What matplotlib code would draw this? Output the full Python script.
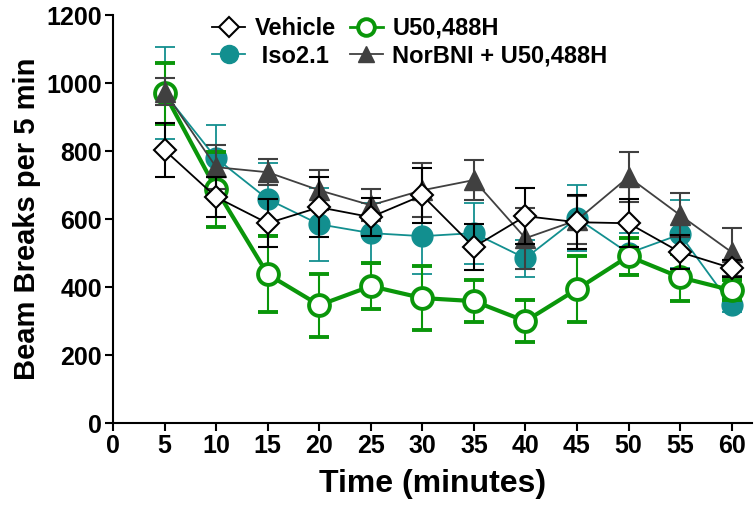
import numpy as np
import matplotlib.pyplot as plt
from matplotlib.lines import Line2D

plt.rcParams['font.family'] = ['Liberation Sans', 'DejaVu Sans']
plt.rcParams['font.weight'] = 'bold'

# time points (minutes)
time = [5, 10, 15, 20, 25, 30, 35, 40, 45, 50, 55, 60]

# mean beam breaks and SEM for each group
vehicle = [803, 665, 588, 635, 606, 670, 518, 609, 591, 588, 503, 456]
vehicle_err = [80, 60, 70, 88, 55, 80, 68, 82, 80, 70, 50, 25]

iso = [970, 779, 659, 585, 559, 550, 559, 485, 603, 500, 555, 347]
iso_err = [135, 97, 105, 108, 90, 110, 90, 55, 97, 60, 100, 20]

u50 = [970, 688, 438, 347, 403, 368, 359, 300, 394, 491, 429, 391]
u50_err = [90, 110, 112, 93, 68, 94, 62, 62, 97, 55, 70, 30]

norbni = [975, 753, 738, 685, 641, 685, 715, 544, 597, 724, 612, 503]
norbni_err = [40, 65, 38, 59, 47, 80, 60, 90, 70, 73, 64, 70]

fig = plt.figure(figsize=(7.56, 5.05), dpi=100)
ax = fig.add_axes([0.1495, 0.162, 0.8455, 0.808])

teal = '#128f8f'
green = '#0a960a'
grey = '#404040'

# marker styles shared by plot and legend
st_iso = dict(color=teal, lw=1.3, marker='o', ms=15, mfc=teal, mec=teal)
st_u50 = dict(color=green, lw=3, marker='o', ms=15, mfc='white',
              mec=green, mew=2.8)
st_nor = dict(color=grey, lw=1.3, marker='^', ms=14, mfc=grey, mec=grey)
st_veh = dict(color='black', lw=1.3, marker='D', ms=11, mfc='white',
              mec='black', mew=1.5)

# draw the groups, back to front
ax.errorbar(time, iso, yerr=iso_err, capsize=7, elinewidth=1.3,
            capthick=1.3, zorder=2, **st_iso)
ax.errorbar(time, u50, yerr=u50_err, capsize=7, elinewidth=1.5,
            capthick=1.5, zorder=3, **st_u50)
ax.errorbar(time, norbni, yerr=norbni_err, capsize=7, elinewidth=1.5,
            capthick=1.5, zorder=4, **st_nor)
ax.errorbar(time, vehicle, yerr=vehicle_err, capsize=7, elinewidth=1.5,
            capthick=1.5, zorder=5, **st_veh)

ax.set_xlim(0, 62)
ax.set_ylim(0, 1200)
ax.set_xticks(range(0, 61, 5))
ax.set_yticks(range(0, 1201, 200))
ax.tick_params(labelsize=18, width=1.5, length=6, pad=2)
for lbl in ax.get_xticklabels() + ax.get_yticklabels():
    lbl.set_fontweight('bold')
ax.spines['top'].set_visible(False)
ax.spines['right'].set_visible(False)
ax.spines['left'].set_linewidth(1.5)
ax.spines['bottom'].set_linewidth(1.5)
ax.spines['left'].set_bounds(0, 1200)

ax.set_xlabel('Time (minutes)', fontsize=23, fontweight='bold', labelpad=8)
ax.set_ylabel('Beam Breaks per 5 min', fontsize=21, fontweight='bold',
              labelpad=4)

# legend in two columns at the top (column-wise fill), smaller markers
leg_iso = dict(st_iso, ms=13)
leg_u50 = dict(st_u50, ms=12, lw=2)
leg_nor = dict(st_nor, ms=12)
leg_veh = dict(st_veh, ms=10)
handles = [Line2D([], [], **leg_veh), Line2D([], [], **leg_iso),
           Line2D([], [], **leg_u50), Line2D([], [], **leg_nor)]
labels = ['Vehicle', ' Iso2.1', 'U50,488H', 'NorBNI + U50,488H']
ax.legend(handles, labels, ncol=2, loc='upper left',
          bbox_to_anchor=(0.265, 0.99), bbox_transform=fig.transFigure,
          frameon=False, borderpad=0, prop={'size': 17, 'weight': 'bold'},
          handlelength=1.4, columnspacing=0.6, handletextpad=0.4,
          labelspacing=0.2)

plt.savefig('out.png', dpi=100)
